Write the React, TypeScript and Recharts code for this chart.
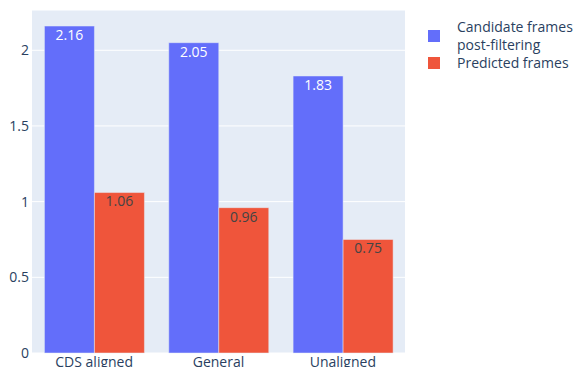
import React from 'react';
import { BarChart, Bar, XAxis, YAxis, CartesianGrid, Legend, LabelList } from 'recharts';

const categories = ['CDS aligned', 'General', 'Unaligned'];
const candidateFrames = [2.16, 2.05, 1.83];
const predictedFrames = [1.06, 0.96, 0.75];
const yTicks = [0, 0.5, 1, 1.5, 2];

const data = categories.map((name, i) => ({
  name,
  candidate: candidateFrames[i],
  predicted: predictedFrames[i],
}));

const FONT = '"Open Sans", verdana, arial, sans-serif';
const TEXT = '#2a3f5f';

const LegendBox = () => (
  <div style={{ fontFamily: FONT, fontSize: 14, color: TEXT, lineHeight: '18px' }}>
    <div style={{ display: 'flex', alignItems: 'center' }}>
      <div style={{ width: 12, height: 12, background: '#636efa', marginRight: 17 }} />
      <div>
        <div>Candidate frames</div>
        <div>post-filtering</div>
      </div>
    </div>
    <div style={{ display: 'flex', alignItems: 'center' }}>
      <div style={{ width: 12, height: 12, background: '#EF553B', marginRight: 17 }} />
      <div>Predicted frames</div>
    </div>
  </div>
);

const App: React.FC = () => (
  <div style={{ position: 'absolute', left: 0, top: 0, background: '#fff' }}>
    <BarChart
      width={578}
      height={367}
      data={data}
      margin={{ top: 10, right: 173, left: 0, bottom: 0 }}
      barCategoryGap="10%"
      barGap={0}
    >
      <CartesianGrid fill="#E5ECF6" stroke="#fff" vertical={false} />
      <XAxis
        dataKey="name"
        height={14}
        axisLine={false}
        tickLine={false}
        tickSize={0}
        tickMargin={4}
        interval={0}
        tick={{ fill: TEXT, fontSize: 14, fontFamily: FONT }}
      />
      <YAxis
        type="number"
        domain={[0, 2.266]}
        ticks={yTicks}
        width={32}
        axisLine={false}
        tickLine={false}
        tickSize={0}
        tickMargin={3}
        tickFormatter={(v: number) => String(v)}
        tick={{ fill: TEXT, fontSize: 14, fontFamily: FONT }}
      />
      <Legend
        layout="horizontal"
        verticalAlign="middle"
        align="center"
        content={() => <LegendBox />}
        wrapperStyle={{ position: 'absolute', left: 428, top: 18, width: 150 }}
      />
      <Bar dataKey="candidate" fill="#636efa" stroke="#E5ECF6" strokeWidth={0.5} isAnimationActive={false}>
        <LabelList dataKey="candidate" position="insideTop" offset={4} fill="#fff" fontSize={14} fontFamily={FONT} />
      </Bar>
      <Bar dataKey="predicted" fill="#EF553B" stroke="#E5ECF6" strokeWidth={0.5} isAnimationActive={false}>
        <LabelList dataKey="predicted" position="insideTop" offset={4} fill="#444" fontSize={14} fontFamily={FONT} />
      </Bar>
    </BarChart>
  </div>
);

export default App;
